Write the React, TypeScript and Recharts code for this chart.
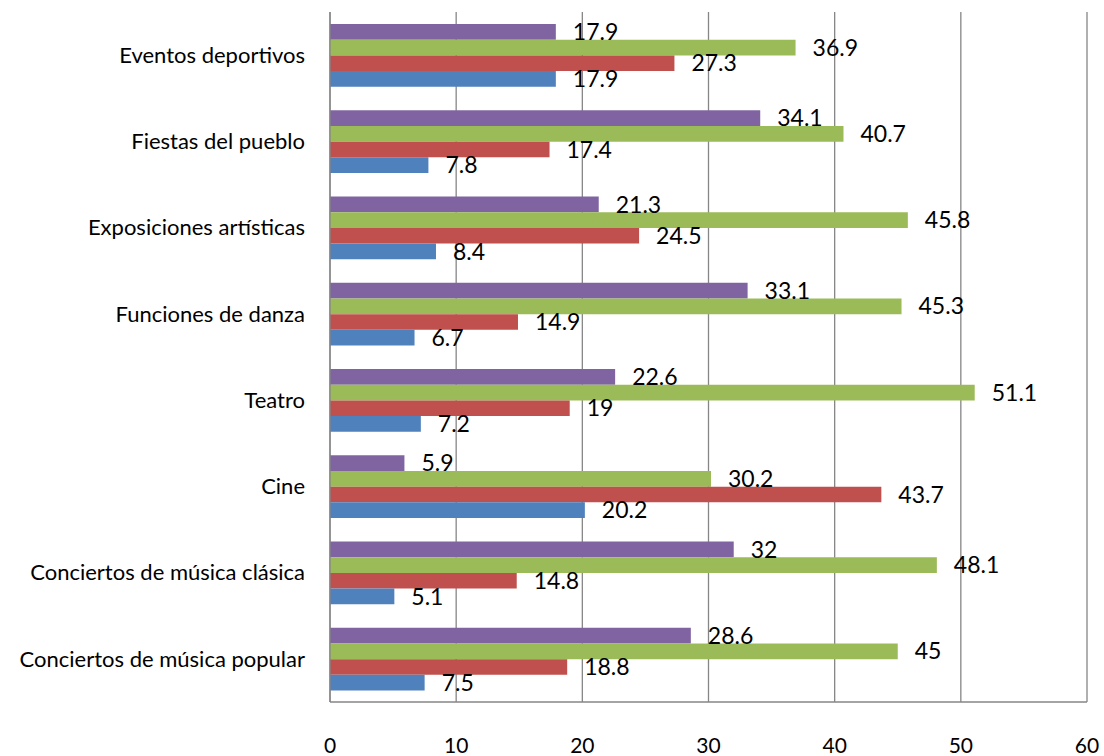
import React from 'react';
import { BarChart, Bar, XAxis, YAxis, CartesianGrid, LabelList } from 'recharts';

const categories = [
  'Eventos deportivos',
  'Fiestas del pueblo',
  'Exposiciones artísticas',
  'Funciones de danza',
  'Teatro',
  'Cine',
  'Conciertos de música clásica',
  'Conciertos de música popular',
];

const serie1 = [17.9, 7.8, 8.4, 6.7, 7.2, 20.2, 5.1, 7.5];
const serie2 = [27.3, 17.4, 24.5, 14.9, 19, 43.7, 14.8, 18.8];
const serie3 = [36.9, 40.7, 45.8, 45.3, 51.1, 30.2, 48.1, 45];
const serie4 = [17.9, 34.1, 21.3, 33.1, 22.6, 5.9, 32, 28.6];

const xTicks = [0, 10, 20, 30, 40, 50, 60];

const data = categories.map((name, i) => ({
  name,
  s1: serie1[i],
  s2: serie2[i],
  s3: serie3[i],
  s4: serie4[i],
}));

const FONT = 'Lato, "Open Sans", sans-serif';
const AXIS = '#868686';

const series = [
  { key: 's4', color: '#8064A2' },
  { key: 's3', color: '#9BBB59' },
  { key: 's2', color: '#C0504D' },
  { key: 's1', color: '#4F81BD' },
];

export default function App() {
  return (
    <div style={{ position: 'absolute', left: 0, top: 0, width: 1104, height: 756, background: '#fff' }}>
      <BarChart
        width={1104}
        height={756}
        data={data}
        layout="vertical"
        margin={{ top: 12, right: 17, bottom: 0, left: 0 }}
        barGap={0}
        barSize={15.7}
      >
        <CartesianGrid horizontal={false} vertical={true} stroke={AXIS} strokeWidth={1.3} />
        <XAxis
          type="number"
          domain={[0, 60]}
          ticks={xTicks}
          interval={0}
          height={54}
          axisLine={{ stroke: AXIS, strokeWidth: 1.3 }}
          tickLine={false}
          tickSize={0}
          tickMargin={36}
          tick={{ fill: '#000', fontSize: 21, fontFamily: FONT }}
        />
        <YAxis
          type="category"
          dataKey="name"
          width={330}
          axisLine={{ stroke: AXIS, strokeWidth: 1.3 }}
          tickLine={false}
          tickSize={0}
          tickMargin={25}
          interval={0}
          tick={{ fill: '#000', fontSize: 22, fontFamily: FONT }}
        />
        {series.map((s) => (
          <Bar key={s.key} dataKey={s.key} fill={s.color} isAnimationActive={false}>
            <LabelList
              dataKey={s.key}
              position="right"
              offset={17}
              fill="#000"
              fontSize={23}
              fontFamily={FONT}
            />
          </Bar>
        ))}
      </BarChart>
    </div>
  );
}
